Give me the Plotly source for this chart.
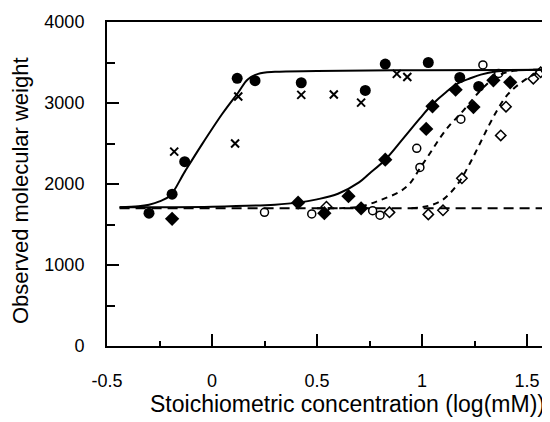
import plotly.graph_objects as go

# observed points
filled_circle_x = [-0.30, -0.19, -0.13, 0.12, 0.205, 0.425, 0.73, 0.825, 1.03, 1.18, 1.27]
filled_circle_y = [1640, 1875, 2275, 3305, 3275, 3250, 3155, 3480, 3500, 3315, 3205]

cross_x = [-0.18, 0.11, 0.125, 0.425, 0.58, 0.71, 0.88, 0.93]
cross_y = [2400, 2500, 3080, 3100, 3105, 3005, 3360, 3320]

filled_diamond_x = [-0.19, 0.41, 0.535, 0.65, 0.71, 0.825, 1.02, 1.05, 1.16, 1.245, 1.34, 1.42]
filled_diamond_y = [1570, 1770, 1640, 1850, 1700, 2300, 2680, 2960, 3165, 2950, 3280, 3255]

open_circle_x = [0.25, 0.475, 0.765, 0.80, 0.975, 0.99, 1.185, 1.29, 1.365]
open_circle_y = [1650, 1630, 1670, 1615, 2440, 2205, 2800, 3470, 3365]

open_diamond_x = [0.545, 0.845, 1.03, 1.10, 1.19, 1.375, 1.40, 1.53, 1.565]
open_diamond_y = [1720, 1650, 1625, 1675, 2070, 2600, 2955, 3300, 3380]

# fitted curves
fit1_x = [-0.44, -0.35, -0.30, -0.25, -0.20, -0.13, -0.05, 0.05, 0.125, 0.17, 0.22, 0.30, 0.50, 1.0, 1.6]
fit1_y = [1712, 1725, 1745, 1785, 1855, 2150, 2480, 2870, 3130, 3290, 3360, 3385, 3395, 3405, 3410]

fit2_x = [-0.44, 0.0, 0.3, 0.41, 0.5, 0.6, 0.7, 0.75, 0.825, 0.91, 0.99, 1.046, 1.117, 1.173, 1.23, 1.28, 1.35, 1.45, 1.6]
fit2_y = [1712, 1720, 1745, 1770, 1810, 1880, 2020, 2130, 2300, 2560, 2810, 2975, 3140, 3245, 3305, 3350, 3390, 3405, 3410]

fit3_x = [0.50, 0.65, 0.72, 0.80, 0.895, 0.943, 0.99, 1.038, 1.086, 1.133, 1.181, 1.23, 1.28, 1.33, 1.38, 1.45, 1.6]
fit3_y = [1700, 1705, 1730, 1800, 1906, 2009, 2194, 2379, 2570, 2729, 2860, 3010, 3160, 3280, 3360, 3400, 3410]

fit4_x = [0.95, 1.03, 1.09, 1.133, 1.181, 1.229, 1.276, 1.32, 1.36, 1.40, 1.451, 1.514, 1.562, 1.6]
fit4_y = [1700, 1730, 1790, 1885, 2040, 2260, 2500, 2730, 2920, 3080, 3210, 3325, 3385, 3410]

base_x = [-0.44, 1.6]
base_y = [1700, 1700]

fig = go.Figure()

fig.add_trace(go.Scatter(x=base_x, y=base_y, mode="lines",
                         line=dict(color="black", width=2, dash="10px,6px")))
fig.add_trace(go.Scatter(x=fit1_x, y=fit1_y, mode="lines", line_shape="spline",
                         line=dict(color="black", width=2)))
fig.add_trace(go.Scatter(x=fit2_x, y=fit2_y, mode="lines", line_shape="spline",
                         line=dict(color="black", width=2)))
fig.add_trace(go.Scatter(x=fit3_x, y=fit3_y, mode="lines", line_shape="spline",
                         line=dict(color="black", width=2, dash="6px,5px")))
fig.add_trace(go.Scatter(x=fit4_x, y=fit4_y, mode="lines", line_shape="spline",
                         line=dict(color="black", width=2, dash="6px,5px")))

fig.add_trace(go.Scatter(x=filled_circle_x, y=filled_circle_y, mode="markers",
                         marker=dict(symbol="circle", size=11, color="black")))
fig.add_trace(go.Scatter(x=cross_x, y=cross_y, mode="markers",
                         marker=dict(symbol="x-thin", size=8, color="black",
                                     line=dict(color="black", width=2))))
fig.add_trace(go.Scatter(x=filled_diamond_x, y=filled_diamond_y, mode="markers",
                         marker=dict(symbol="diamond", size=11, color="black")))
fig.add_trace(go.Scatter(x=open_circle_x, y=open_circle_y, mode="markers",
                         marker=dict(symbol="circle-open", size=8, color="black",
                                     line=dict(width=1.5))))
fig.add_trace(go.Scatter(x=open_diamond_x, y=open_diamond_y, mode="markers",
                         marker=dict(symbol="diamond-open", size=8, color="black",
                                     line=dict(width=1.5))))

axis_font = dict(family="Liberation Sans, Arial, sans-serif", size=18, color="black")

fig.update_xaxes(range=[-0.5, 1.6], tickvals=[-0.5, 0, 0.5, 1, 1.5],
                 ticktext=["-0.5", "0", "0.5", "1", "1.5"], automargin=False,
                 showgrid=False, zeroline=False, showline=True, linecolor="black",
                 linewidth=2, mirror=True, ticks="inside", ticklen=12, tickwidth=2,
                 tickcolor="black", tickfont=axis_font, ticklabelstandoff=17,
                 minor=dict(dtick=0.25, ticks="inside", ticklen=5, tickwidth=1.5,
                            tickcolor="black"))
fig.update_yaxes(range=[0, 4000], tickvals=[0, 1000, 2000, 3000, 4000], automargin=False,
                 showgrid=False, zeroline=False, showline=True, linecolor="black",
                 linewidth=2, mirror=True, ticks="inside", ticklen=12, tickwidth=2,
                 tickcolor="black", tickfont=axis_font, ticklabelstandoff=17,
                 minor=dict(dtick=500, ticks="inside", ticklen=8, tickwidth=1.5,
                            tickcolor="black"))

# page body keeps an 8px margin, so the figure is 8px smaller and margins shifted
fig.add_annotation(text="Stoichiometric concentration (log(mM))", xref="paper", yref="paper",
                   x=(347 - 107) / 441, y=(346 - 404) / 324, xanchor="center", yanchor="middle",
                   showarrow=False,
                   font=dict(family="Liberation Sans, Arial, sans-serif", size=23, color="black"))
fig.add_annotation(text="Observed molecular weight", xref="paper", yref="paper",
                   x=(20 - 107) / 441, y=(346 - 191) / 324, xanchor="center", yanchor="middle",
                   textangle=-90, showarrow=False,
                   font=dict(family="Liberation Sans, Arial, sans-serif", size=22, color="black"))

fig.update_layout(width=542, height=414, showlegend=False,
                  plot_bgcolor="white", paper_bgcolor="white",
                  margin=dict(l=99, r=2, t=14, b=76))

fig.write_html("out.html")
